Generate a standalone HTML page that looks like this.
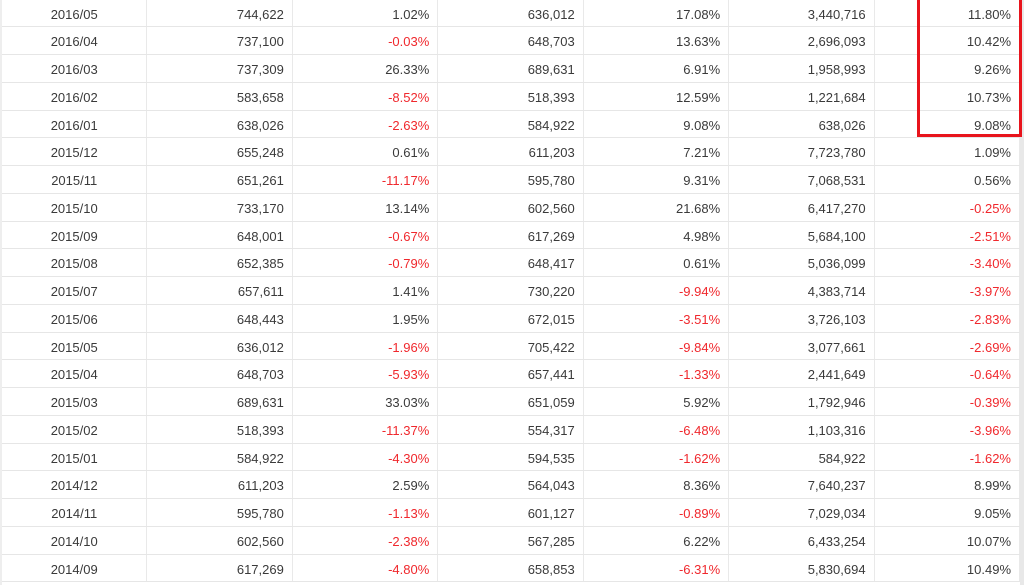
<!DOCTYPE html>
<html><head><meta charset="utf-8"><style>
body{margin:0;width:1024px;height:585px;overflow:hidden;background:#fff;font-family:"Liberation Sans",Arial,sans-serif;font-size:13px;color:#3a3a3a;position:relative}
.row{position:absolute;left:2px;width:1018px;height:27.75px;border-bottom:1px solid #e6e6e6;box-sizing:border-box}
.c{position:absolute;top:0;height:100%;line-height:30px;box-sizing:border-box;border-right:1px solid #e9e9e9;padding-right:8px;text-align:right}
.c.d{text-align:center;padding:0}
.neg{color:#f0282d}
#box{position:absolute;left:917px;top:-4px;width:105px;height:141px;border:3px solid #e8141c;box-sizing:border-box;z-index:2}
#sb{position:absolute;left:1020px;top:0;width:4px;height:585px;background:#e8e8e8;z-index:1}
#lb{position:absolute;left:0;top:0;width:2px;height:585px;background:#eee}
</style></head><body>
<div id="lb"></div>
<div id="tbl"></div>
<div id="sb"></div>
<div id="box"></div>
<script>
const rows=[
["2016/05","744,622","1.02%","636,012","17.08%","3,440,716","11.80%"],
["2016/04","737,100","-0.03%","648,703","13.63%","2,696,093","10.42%"],
["2016/03","737,309","26.33%","689,631","6.91%","1,958,993","9.26%"],
["2016/02","583,658","-8.52%","518,393","12.59%","1,221,684","10.73%"],
["2016/01","638,026","-2.63%","584,922","9.08%","638,026","9.08%"],
["2015/12","655,248","0.61%","611,203","7.21%","7,723,780","1.09%"],
["2015/11","651,261","-11.17%","595,780","9.31%","7,068,531","0.56%"],
["2015/10","733,170","13.14%","602,560","21.68%","6,417,270","-0.25%"],
["2015/09","648,001","-0.67%","617,269","4.98%","5,684,100","-2.51%"],
["2015/08","652,385","-0.79%","648,417","0.61%","5,036,099","-3.40%"],
["2015/07","657,611","1.41%","730,220","-9.94%","4,383,714","-3.97%"],
["2015/06","648,443","1.95%","672,015","-3.51%","3,726,103","-2.83%"],
["2015/05","636,012","-1.96%","705,422","-9.84%","3,077,661","-2.69%"],
["2015/04","648,703","-5.93%","657,441","-1.33%","2,441,649","-0.64%"],
["2015/03","689,631","33.03%","651,059","5.92%","1,792,946","-0.39%"],
["2015/02","518,393","-11.37%","554,317","-6.48%","1,103,316","-3.96%"],
["2015/01","584,922","-4.30%","594,535","-1.62%","584,922","-1.62%"],
["2014/12","611,203","2.59%","564,043","8.36%","7,640,237","8.99%"],
["2014/11","595,780","-1.13%","601,127","-0.89%","7,029,034","9.05%"],
["2014/10","602,560","-2.38%","567,285","6.22%","6,433,254","10.07%"],
["2014/09","617,269","-4.80%","658,853","-6.31%","5,830,694","10.49%"]];
const colNames=["month","sales","mom-change","prev-year-sales","yoy-change","cumulative-sales","cumulative-yoy"];
const tbl=document.getElementById('tbl');
const W=145.43;
rows.forEach((r,i)=>{
  const row=document.createElement('div');
  row.className='row';
  row.style.top=(i*27.75-0.5)+'px';
  
  
  r.forEach((v,j)=>{
    const c=document.createElement('div');
    c.className='c'+(j==0?' d':'')+(v.startsWith('-')?' neg':'');
    c.style.left=(j*W)+'px';c.style.width=W+'px';
    c.textContent=v;
    
    
    row.appendChild(c);
  });
  tbl.appendChild(row);
});
</script>
</body></html>
